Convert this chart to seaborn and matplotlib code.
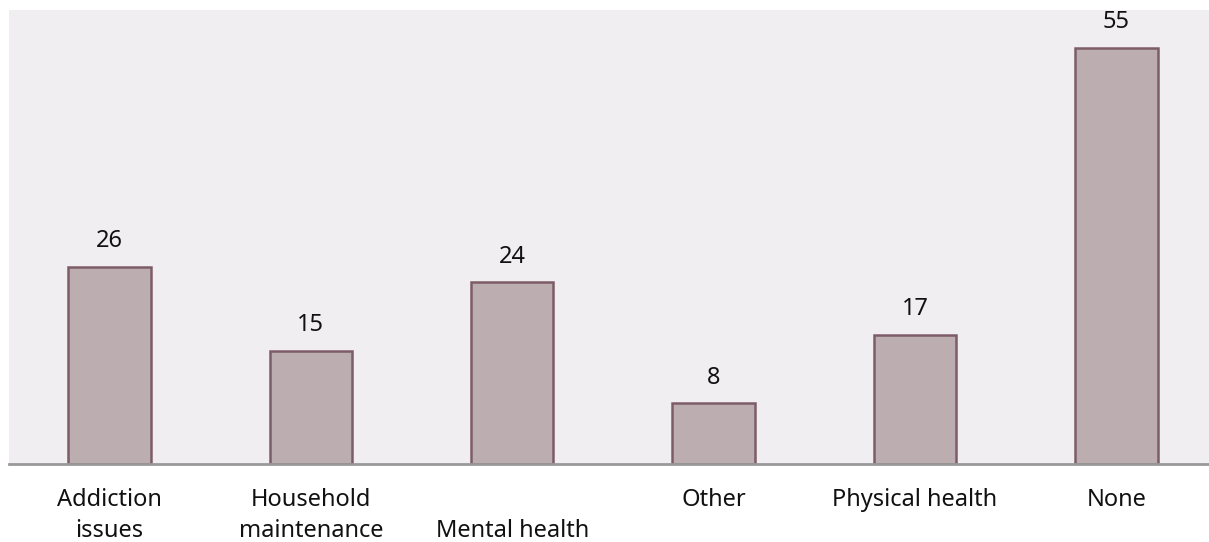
import matplotlib
matplotlib.use("Agg")
import matplotlib.pyplot as plt
import seaborn as sns
import pandas as pd

categories = ["Addiction issues", "Household maintenance", "Mental health",
              "Other", "Physical health", "None"]
values = [26, 15, 24, 8, 17, 55]
tick_labels = ["Addiction\nissues", "Household\nmaintenance", "\nMental health",
               "Other", "Physical health", "None"]

sns.set_theme(style="white")
plt.rcParams["font.family"] = ["Noto Sans", "DejaVu Sans"]

df = pd.DataFrame({"category": categories, "value": values})

fig = plt.figure(figsize=(12.09, 5.42), dpi=100)
W, H = 1209, 542
left, right, top, bottom = 8.8, 1217, 10, 464
ax = fig.add_axes([left / W, 1 - bottom / H, (right - left) / W, (bottom - top) / H])
ax.set_facecolor("#f0eef0")

sns.barplot(data=df, x="category", y="value", ax=ax, color="#bcadb0",
            edgecolor="#7d5c68", linewidth=1.8, width=0.41, saturation=1)

ax.set_xlim(-0.5, 5.5)
ax.set_ylim(0, 60)
for c in ax.containers:
    ax.bar_label(c, labels=[str(v) for v in values], padding=10,
                 fontsize=17, color="#111111")

for s in ["top", "left", "right"]:
    ax.spines[s].set_visible(False)
ax.spines["bottom"].set_color("#999999")
ax.spines["bottom"].set_linewidth(2)
ax.set_yticks([])
ax.set_xticks(range(len(categories)))
ax.set_xticklabels(tick_labels, fontsize=17, color="#111111", linespacing=1.4)
ax.tick_params(axis="x", length=0, pad=17)
ax.set_xlabel("")
ax.set_ylabel("")

fig.savefig("out.png", dpi=100)
